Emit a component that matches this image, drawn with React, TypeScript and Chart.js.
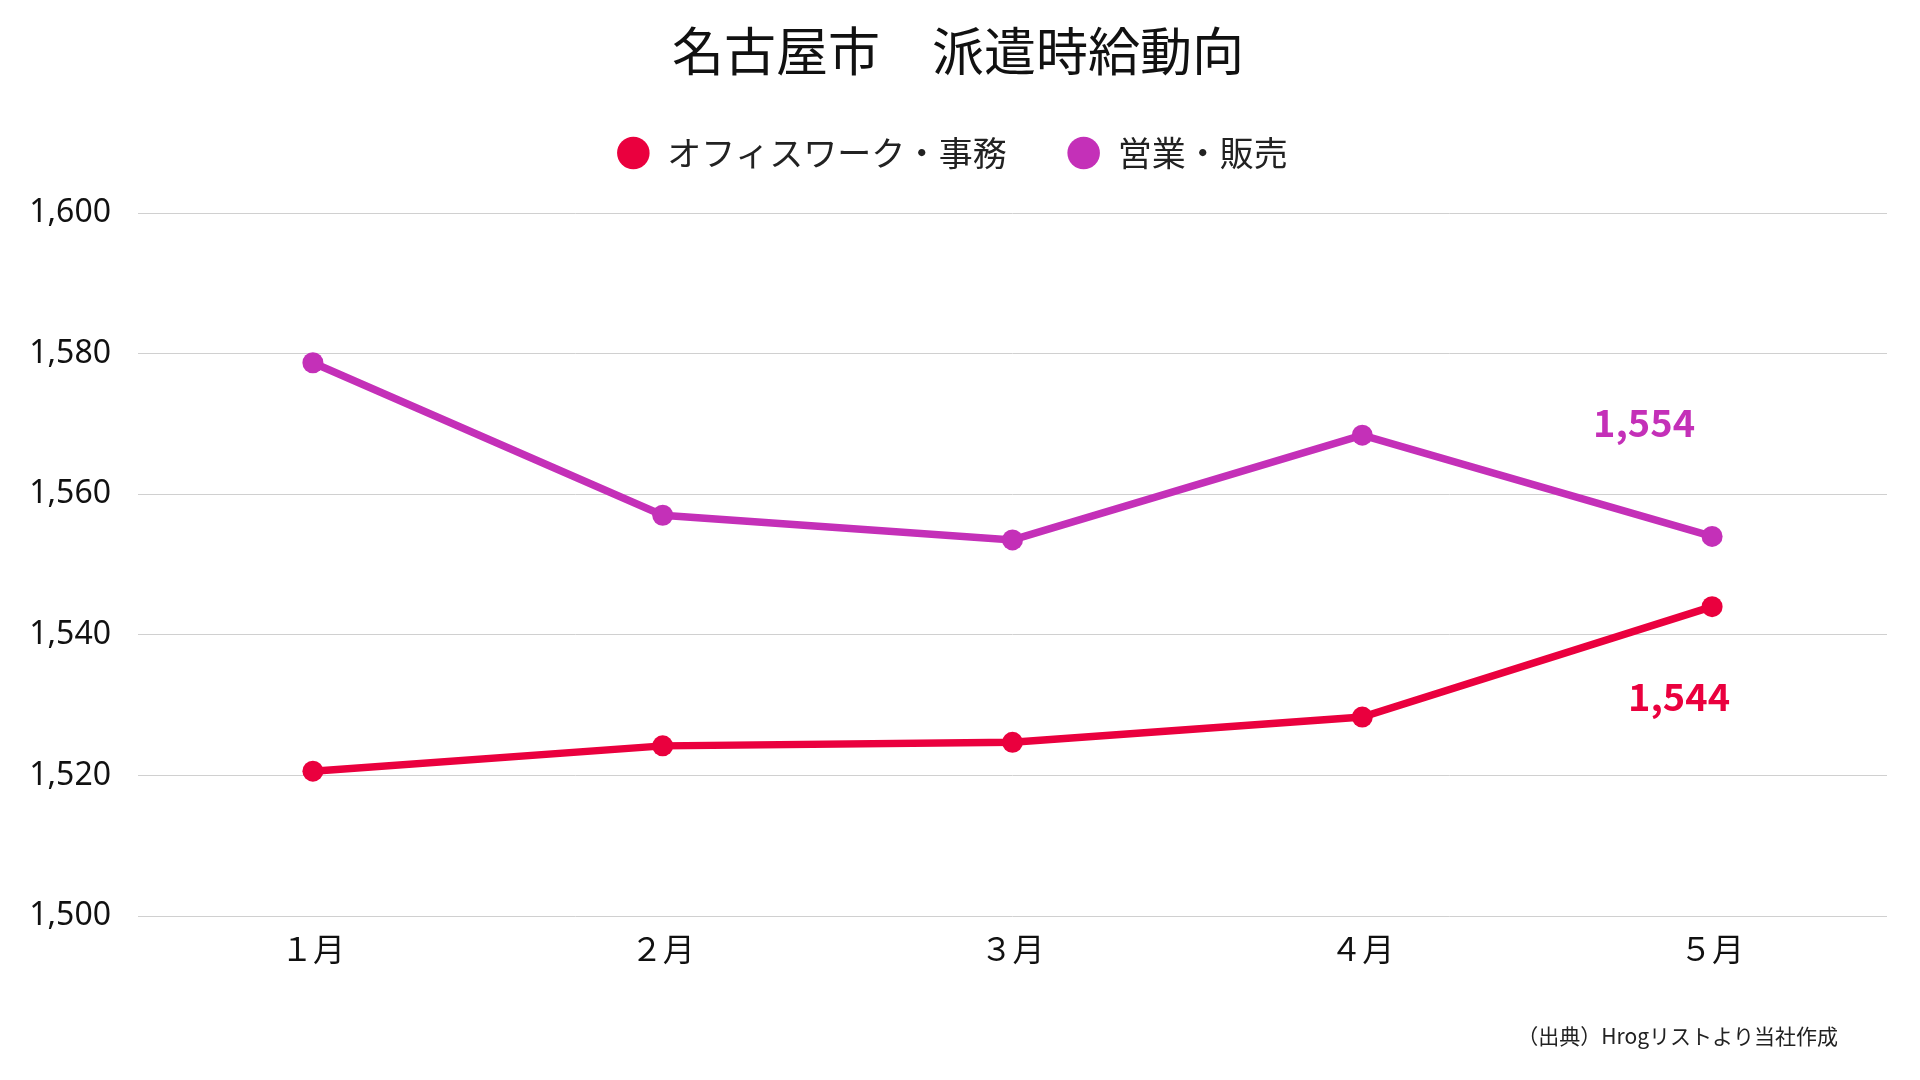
import React, { useEffect, useRef } from 'react';
import { Chart, registerables } from 'chart.js';

Chart.register(...registerables);

const titleText = '名古屋市　派遣時給動向';
const months = ['１月', '２月', '３月', '４月', '５月'];
const officeLabel = 'オフィスワーク・事務';
const salesLabel = '営業・販売';
const officeValues = [1520.6, 1524.2, 1524.7, 1528.3, 1544];
const salesValues = [1578.7, 1557, 1553.5, 1568.4, 1554];
const yMin = 1500;
const yMax = 1600;
const yStep = 20;
const sourceNote = '（出典）Hrogリストより当社作成';

const RED = '#EA003E';
const PURPLE = '#C430B8';
const CJK = "'Noto Sans CJK JP', 'Noto Sans', sans-serif";

const endLabels = {
  id: 'endLabels',
  afterDatasetsDraw(chart: any) {
    const ctx = chart.ctx;
    const offsets = [
      { dx: -33, dy: 90 },
      { dx: -68, dy: -114 },
    ];
    chart.data.datasets.forEach((ds: any, i: number) => {
      const meta = chart.getDatasetMeta(i);
      const last = meta.data[meta.data.length - 1];
      const v = ds.data[ds.data.length - 1];
      const off = offsets[i];
      ctx.save();
      ctx.font = `bold 38px ${CJK}`;
      ctx.fillStyle = ds.borderColor;
      ctx.textAlign = 'center';
      ctx.textBaseline = 'middle';
      ctx.fillText(Math.round(Number(v)).toLocaleString('en-US'), last.x + off.dx, last.y + off.dy);
      ctx.restore();
    });
  },
};

const footnote = {
  id: 'footnote',
  afterDraw(chart: any) {
    const ctx = chart.ctx;
    ctx.save();
    ctx.font = `21px ${CJK}`;
    ctx.fillStyle = '#222';
    ctx.textAlign = 'right';
    ctx.textBaseline = 'middle';
    ctx.fillText(sourceNote, 1838, 1036);
    ctx.restore();
  },
};

const legendPlacement = {
  id: 'legendPlacement',
  afterLayout(chart: any) {
    const lg = chart.legend;
    if (!lg) return;
    lg.left -= 6;
    lg.right -= 6;
    lg.top -= 33;
    lg.bottom -= 33;
  },
};

export default function App() {
  const ref = useRef<HTMLCanvasElement | null>(null);

  useEffect(() => {
    if (!ref.current) return;
    const chart = new Chart(ref.current, {
      type: 'line',
      data: {
        labels: months,
        datasets: [
          {
            label: officeLabel,
            data: officeValues,
            borderColor: RED,
            backgroundColor: RED,
            pointBackgroundColor: RED,
            borderWidth: 7.5,
            pointRadius: 10.5,
            pointHoverRadius: 10.5,
            pointBorderWidth: 0,
            tension: 0,
          },
          {
            label: salesLabel,
            data: salesValues,
            borderColor: PURPLE,
            backgroundColor: PURPLE,
            pointBackgroundColor: PURPLE,
            borderWidth: 7.5,
            pointRadius: 10.5,
            pointHoverRadius: 10.5,
            pointBorderWidth: 0,
            tension: 0,
          },
        ],
      },
      options: {
        responsive: false,
        maintainAspectRatio: false,
        animation: false,
        devicePixelRatio: 1,
        layout: { padding: { left: 29, right: 33, top: 0, bottom: 97.6 } },
        plugins: {
          title: {
            display: true,
            text: titleText,
            color: '#111',
            font: { family: CJK, size: 52, weight: 'normal', lineHeight: 1.2 },
            padding: { top: 20, bottom: 26.6 },
          },
          legend: {
            display: true,
            position: 'top',
            labels: {
              usePointStyle: true,
              pointStyle: 'circle',
              boxWidth: 34,
              boxHeight: 23,
              padding: 60,
              color: '#222',
              font: { family: CJK, size: 34 },
            },
          },
          tooltip: { enabled: false },
        },
        scales: {
          x: {
            offset: true,
            grid: { display: false, drawTicks: false },
            border: { display: false },
            ticks: {
              color: '#111',
              padding: 14,
              font: { family: CJK, size: 32 },
            },
          },
          y: {
            min: yMin,
            max: yMax,
            grid: { color: '#d0d0d0', lineWidth: 1, drawTicks: false },
            border: { display: false },
            ticks: {
              stepSize: yStep,
              color: '#111',
              padding: 27,
              font: { family: "'Noto Sans', sans-serif", size: 32 },
              callback: (v: any) => Number(v).toLocaleString('en-US'),
            },
            afterFit: (scale: any) => {
              scale.width = 109;
            },
          },
        },
      },
      plugins: [endLabels, footnote, legendPlacement],
    });
    return () => chart.destroy();
  }, []);

  return (
    <div style={{ position: 'fixed', left: 0, top: 0, width: 1920, height: 1080, background: '#fff' }}>
      <canvas ref={ref} width={1920} height={1080} style={{ width: 1920, height: 1080, display: 'block' }} />
    </div>
  );
}
